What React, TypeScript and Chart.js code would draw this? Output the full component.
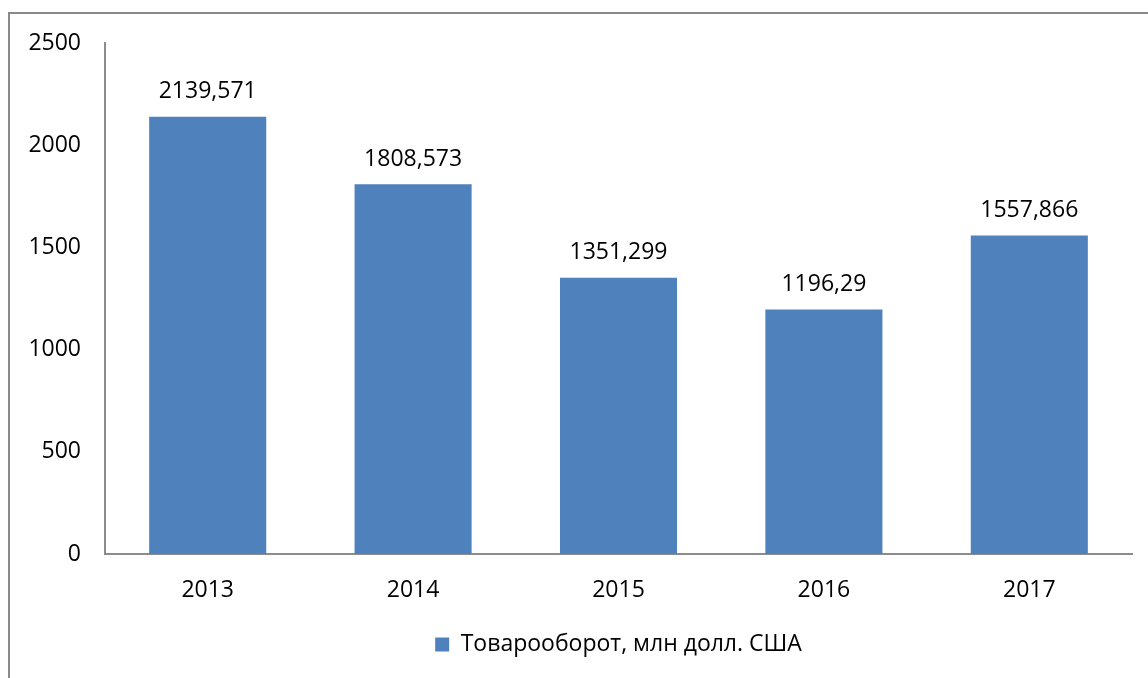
import React, { useEffect, useRef } from "react";
import { Chart, registerables } from "chart.js";

Chart.register(...registerables);

const years = ["2013", "2014", "2015", "2016", "2017"];
const turnover = [2139.571, 1808.573, 1351.299, 1196.29, 1557.866];
const seriesName = "Товарооборот, млн долл. США";
const yMin = 0;
const yMax = 2500;
const yStep = 500;

const FONT = "'Open Sans', 'Noto Sans', sans-serif";
const FS = 23;
const BAR = "#4F81BD";
const AXIS = "#8c8c8c";

const valueLabels = {
  id: "valueLabels",
  afterDatasetsDraw(chart: any) {
    const ctx = chart.ctx;
    const meta = chart.getDatasetMeta(0);
    ctx.save();
    ctx.font = `${FS}px ${FONT}`;
    ctx.fillStyle = "#000";
    ctx.textAlign = "center";
    ctx.textBaseline = "middle";
    meta.data.forEach((el: any, i: number) => {
      const v = chart.data.datasets[0].data[i] as number;
      ctx.fillText(String(v).replace(".", ","), el.x, el.y - 25);
    });
    ctx.restore();
  },
};

// centre the legend under the plot area rather than the whole canvas
const legendShift = {
  id: "legendShift",
  afterLayout(chart: any) {
    const lg = chart.legend;
    const ca = chart.chartArea;
    if (!lg || !ca) return;
    const target = (ca.left + ca.right) / 2;
    const cur = (lg.left + lg.right) / 2;
    const d = target - cur;
    lg.left += d;
    lg.right += d;
  },
};

export default function App() {
  const ref = useRef<HTMLCanvasElement>(null);
  useEffect(() => {
    if (!ref.current) return;
    const chart = new Chart(ref.current, {
      type: "bar",
      data: {
        labels: years,
        datasets: [
          {
            label: seriesName,
            data: turnover,
            backgroundColor: BAR,
            borderWidth: 0,
            barPercentage: 0.57,
            categoryPercentage: 1,
          },
        ],
      },
      options: {
        responsive: false,
        animation: false,
        layout: { padding: { left: 0, right: 16, top: 43, bottom: 12 } },
        plugins: {
          tooltip: { enabled: false },
          legend: {
            position: "bottom",
            labels: {
              boxWidth: 14,
              boxHeight: 14,
              color: "#000",
              font: { family: FONT, size: FS },
              padding: 10,
            },
          },
        },
        scales: {
          x: {
            grid: { display: false, drawTicks: false },
            border: { display: true, color: AXIS, width: 2 },
            ticks: { color: "#000", font: { family: FONT, size: FS }, padding: 23 },
            afterFit: (s: any) => {
              s.height = 69;
            },
          },
          y: {
            min: yMin,
            max: yMax,
            grid: { display: false, drawTicks: false },
            border: { display: true, color: AXIS, width: 2 },
            ticks: {
              stepSize: yStep,
              color: "#000",
              font: { family: FONT, size: FS },
              padding: 24,
              callback: (v: any) => String(v),
            },
            afterFit: (s: any) => {
              s.width = 105;
            },
          },
        },
      },
      plugins: [valueLabels, legendShift],
    });
    return () => chart.destroy();
  }, []);
  return (
    <div style={{ position: "absolute", left: 0, top: 0, width: 1148, height: 678, overflow: "hidden", background: "#fff" }}>
      <div
        style={{
          position: "absolute",
          left: 8,
          top: 12,
          width: 1200,
          height: 800,
          borderLeft: "2px solid #8a8a8a",
          borderTop: "2px solid #8a8a8a",
        }}
      />
      <canvas ref={ref} width={1148} height={678} style={{ position: "absolute", left: 0, top: 0 }} />
    </div>
  );
}
